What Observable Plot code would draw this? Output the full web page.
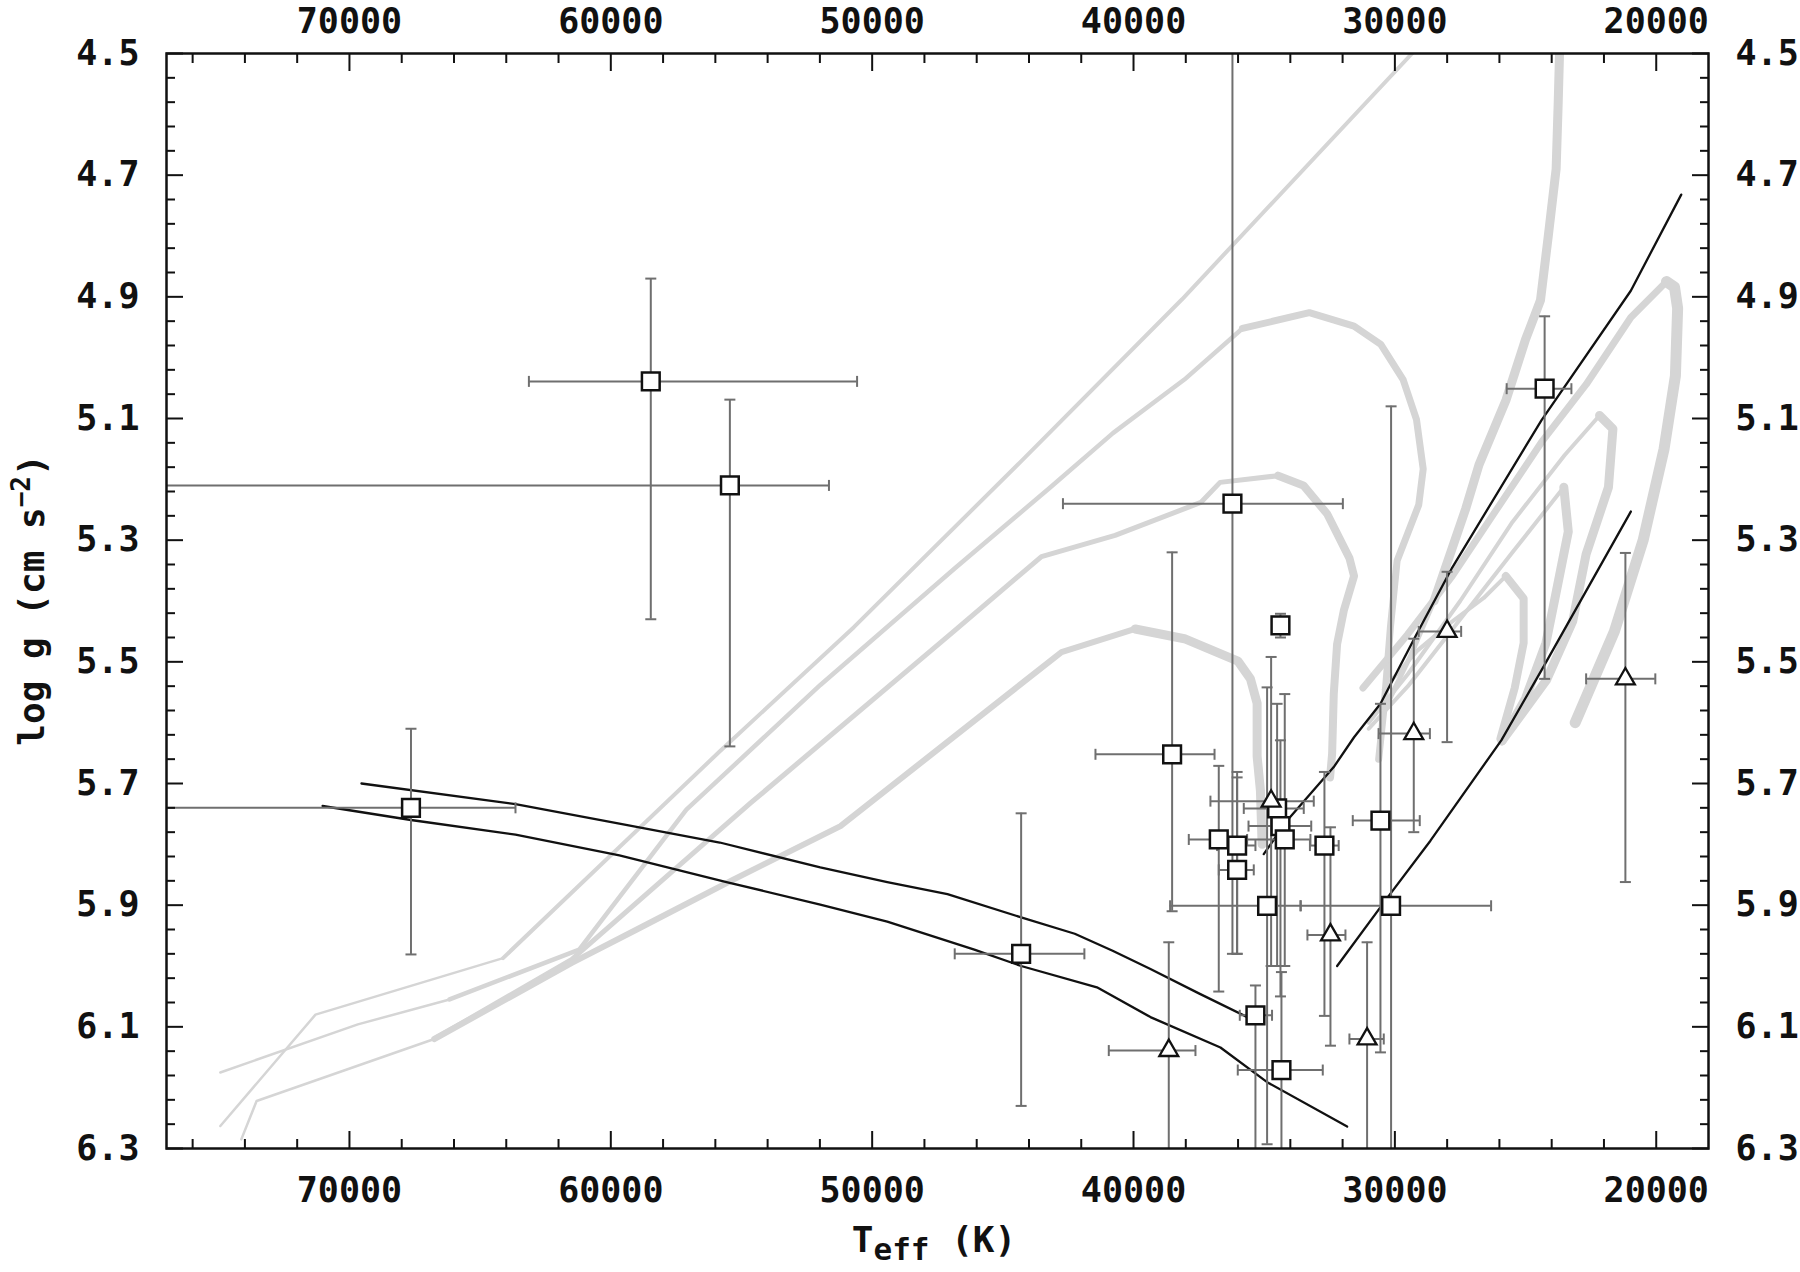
<!DOCTYPE html>
<html><head><meta charset="utf-8">
<script src="https://cdn.jsdelivr.net/npm/d3@7"></script>
<script src="https://cdn.jsdelivr.net/npm/@observablehq/plot@0.6"></script>
<style>
html,body{margin:0;padding:0;background:#fff;}
#chart{width:1800px;height:1272px;}
</style></head><body><div id="chart"></div>
<script>
// ---------- tick values ----------
const xMajor = [20000, 30000, 40000, 50000, 60000, 70000];
const xMinor = [22000,24000,26000,28000,32000,34000,36000,38000,42000,44000,46000,48000,52000,54000,56000,58000,62000,64000,66000,68000,72000,74000,76000];
const yMajor = [4.5, 4.7, 4.9, 5.1, 5.3, 5.5, 5.7, 5.9, 6.1, 6.3];
const yMinor = [4.54,4.58,4.62,4.66,4.74,4.78,4.82,4.86,4.94,4.98,5.02,5.06,5.14,5.18,5.22,5.26,5.34,5.38,5.42,5.46,5.54,5.58,5.62,5.66,5.74,5.78,5.82,5.86,5.94,5.98,6.02,6.06,6.14,6.18,6.22,6.26];

// ---------- grey evolutionary tracks (Teff, log g) ----------
const trkA1_T = [74940, 71300, 64123];
const trkA1_g = [6.263, 6.080, 5.987];
const trkA2_T = [64123, 55827, 50700, 44293, 38142, 29343, 28500];
const trkA2_g = [5.987, 5.647, 5.443, 5.170, 4.904, 4.500, 4.460];
const trkB1_T = [74942, 69678, 66170];
const trkB1_g = [6.175, 6.096, 6.055];
const trkB2_T = [66170, 61209, 57108, 51982, 46856, 43178, 40787, 38054, 35834];
const trkB2_g = [6.055, 5.973, 5.743, 5.538, 5.347, 5.213, 5.124, 5.036, 4.952];
const trkB3_T = [35834, 33272, 31564, 30539, 29685, 29172, 28916, 29087, 29915, 30170, 30425, 30620];
const trkB3_g = [4.952, 4.926, 4.948, 4.978, 5.036, 5.102, 5.183, 5.242, 5.334, 5.443, 5.580, 5.660];
const trkC1_T = [74138, 73553, 66754];
const trkC1_g = [6.285, 6.222, 6.120];
const trkC2_T = [66754, 61491, 54649, 46856, 43522, 40705, 37424, 36688, 34467];
const trkC2_g = [6.120, 5.989, 5.732, 5.449, 5.327, 5.292, 5.238, 5.205, 5.194];
const trkC3_T = [34467, 33500, 32588, 31734, 31563, 31955, 32211, 32338, 32401, 32480];
const trkC3_g = [5.194, 5.210, 5.257, 5.330, 5.359, 5.416, 5.471, 5.553, 5.651, 5.690];
const trkD1_T = [66754, 61491, 59006, 55314, 51213, 42755, 39936];
const trkD1_g = [6.120, 5.995, 5.940, 5.858, 5.770, 5.484, 5.446];
const trkD2_T = [39936, 38054, 36004, 35526, 35271, 35271, 35144, 35080];
const trkD2_g = [5.446, 5.462, 5.499, 5.528, 5.568, 5.655, 5.712, 5.800];
const trkE1_T = [23650, 23700, 23750, 23830, 24130, 24430, 25000, 25750, 26781, 27294, 28500];
const trkE1_g = [4.45, 4.50, 4.58, 4.69, 4.80, 4.906, 4.97, 5.07, 5.176, 5.249, 5.40];
const trkE2_T = [28500, 29400, 30300];
const trkE2_g = [5.40, 5.49, 5.57];
const trkF1_T = [31222, 29514, 27806, 26098, 24390, 22682, 20974, 19608];
const trkF1_g = [5.543, 5.455, 5.359, 5.249, 5.139, 5.044, 4.934, 4.875];
const trkF2_T = [19608, 19300, 19181, 19266, 19700, 20500, 21600, 23100];
const trkF2_g = [4.875, 4.884, 4.919, 5.030, 5.150, 5.300, 5.450, 5.600];
const trkG1a_T = [31000, 29500, 27500, 25500, 23500, 22169];
const trkG1a_g = [5.60, 5.52, 5.40, 5.27, 5.16, 5.095];
const trkG1b_T = [22169, 21657, 21828, 22682, 23194, 24200, 25900];
const trkG1b_g = [5.095, 5.117, 5.213, 5.323, 5.433, 5.53, 5.63];
const trkG2a_T = [31000, 29500, 27500, 25500, 23536];
const trkG2a_g = [5.61, 5.54, 5.43, 5.32, 5.213];
const trkG2b_T = [23536, 23365, 23877, 24219, 25000, 25900];
const trkG2b_g = [5.213, 5.286, 5.396, 5.469, 5.56, 5.63];
const trkG3a_T = [30425, 29150, 27874, 26599, 25756];
const trkG3a_g = [5.545, 5.482, 5.436, 5.395, 5.359];
const trkG3b_T = [25756, 25073, 25073, 25415, 25961];
const trkG3b_g = [5.359, 5.396, 5.469, 5.543, 5.626];

// ---------- black lines ----------
const L1_T = [69540, 63647, 59672, 55831, 51986, 49422, 47119, 44299, 42248, 40800, 39352, 37500, 35650];
const L1_g = [5.700, 5.734, 5.766, 5.797, 5.838, 5.862, 5.882, 5.920, 5.947, 5.975, 6.005, 6.045, 6.084];
const L2_T = [71028, 67645, 63647, 59672, 55574, 51986, 49422, 46090, 44300, 41400, 39352, 36674, 34888, 31827];
const L2_g = [5.737, 5.760, 5.784, 5.818, 5.862, 5.899, 5.927, 5.973, 6.000, 6.035, 6.084, 6.134, 6.191, 6.264];
const L3_T = [35017, 34122, 32339, 31562, 30552, 29175, 27806, 24393, 20972, 19043];
const L3_g = [5.816, 5.761, 5.673, 5.624, 5.569, 5.455, 5.345, 5.103, 4.890, 4.732];
const L4_T = [32210, 30169, 28639, 25928, 24393, 20972];
const L4_g = [6.000, 5.881, 5.794, 5.629, 5.514, 5.253];

// ---------- observed stars: squares ----------
const sqT    = [58470, 55444, 67646, 44300, 38523, 36215, 34378, 34506, 34378, 34213, 36738, 36036, 36036, 34889, 32695, 30552, 30145, 35335, 34340, 24270];
const sqG    = [5.039, 5.210, 5.740, 5.980, 5.652, 5.240, 5.440, 5.741, 5.770, 5.792, 5.792, 5.802, 5.842, 5.901, 5.802, 5.761, 5.901, 6.081, 6.171, 5.051];
const sqTlo  = [63134, 90000, 90000, 46841, 41456, 42700, null,  35781, 35600, 35654, 37885, 36801, 36738, 38600, 33250, 31611, 33613, 35934, 36011, 25722];
const sqThi  = [50577, 51653, 63647, 41880, 36900, 31990, null,  33486, 33200, 33231, 36419, 35335, 35399, 33600, 32150, 29048, 26318, 34700, 32759, 23246];
const sqGlo  = [4.870, 5.069, 5.610, 5.749, 5.320, 4.300, 5.421, 5.569, 5.629, 5.553, 5.671, 5.681, 5.690, 5.542, 5.681, 5.569, 5.080, 6.032, 6.010, 4.932];
const sqGhi  = [5.430, 5.639, 5.981, 6.230, 5.910, 5.980, 5.460, 6.000, 6.050, 6.000, 6.042, 5.980, 5.980, 6.293, 6.082, 6.142, 6.400, 6.400, 6.400, 5.528];

// ---------- observed stars: triangles ----------
const trT   = [34735, 32465, 29277, 28002, 38651, 31063, 21180];
const trG   = [5.729, 5.949, 5.618, 5.450, 6.139, 6.120, 5.528];
const trTlo = [37057, 33346, 30624, 29087, 40946, 31739, 22682];
const trThi = [33103, 31891, 28660, 27464, 37630, 30425, 20035];
const trGlo = [5.492, 5.772, 5.462, 5.352, 5.961, 5.961, 5.321];
const trGhi = [6.000, 6.131, 5.780, 5.632, 6.400, 6.400, 5.862];

// ---------- assemble ----------
const tracks = [
  ["A1", trkA1_T, trkA1_g], ["A2", trkA2_T, trkA2_g],
  ["B1", trkB1_T, trkB1_g], ["B2", trkB2_T, trkB2_g], ["B3", trkB3_T, trkB3_g],
  ["C1", trkC1_T, trkC1_g], ["C2", trkC2_T, trkC2_g], ["C3", trkC3_T, trkC3_g],
  ["D1", trkD1_T, trkD1_g], ["D2", trkD2_T, trkD2_g],
  ["E1", trkE1_T, trkE1_g], ["E2", trkE2_T, trkE2_g],
  ["F1", trkF1_T, trkF1_g], ["F2", trkF2_T, trkF2_g],
  ["G1a", trkG1a_T, trkG1a_g], ["G1b", trkG1b_T, trkG1b_g],
  ["G2a", trkG2a_T, trkG2a_g], ["G2b", trkG2b_T, trkG2b_g],
  ["G3a", trkG3a_T, trkG3a_g], ["G3b", trkG3b_T, trkG3b_g]
];
const trackWidth = {A1:2.5, A2:4, B1:2.5, B2:4.5, B3:7, C1:2.5, C2:5, C3:8, D1:6, D2:9,
  E1:9, E2:5, F1:7, F2:11, G1a:4, G1b:9, G2a:4, G2b:9, G3a:4, G3b:8};
const blackLines = [[L1_T, L1_g], [L2_T, L2_g], [L3_T, L3_g], [L4_T, L4_g]];

const rowsOf = (T, G) => T.map((t, i) => ({t, g: G[i]}));
const sqRows = sqT.map((t, i) => ({t, g: sqG[i], tlo: sqTlo[i], thi: sqThi[i], glo: sqGlo[i], ghi: sqGhi[i]}));
const trRows = trT.map((t, i) => ({t, g: trG[i], tlo: trTlo[i], thi: trThi[i], glo: trGlo[i], ghi: trGhi[i]}));
const allRows = sqRows.concat(trRows);
const hRows = allRows.filter(d => d.tlo != null);

const ERR = "#6f6f6f";
const GREY = "#d5d5d5";
const FONT = "'DejaVu Sans Mono', monospace";
const hcap = {draw(ctx, size) { const l = Math.sqrt(size / Math.PI); ctx.moveTo(-l, 0); ctx.lineTo(l, 0); }};
const vcap = {draw(ctx, size) { const l = Math.sqrt(size / Math.PI); ctx.moveTo(0, -l); ctx.lineTo(0, l); }};

const marks = [];
for (const [name, T, G] of tracks) {
  marks.push(Plot.line(rowsOf(T, G), {x: "t", y: "g", stroke: GREY, strokeWidth: trackWidth[name],
    strokeLinecap: "round", strokeLinejoin: "round", clip: true}));
}
for (const [T, G] of blackLines) {
  marks.push(Plot.line(rowsOf(T, G), {x: "t", y: "g", stroke: "#111", strokeWidth: 2.3, clip: true}));
}
marks.push(
  Plot.ruleX(allRows, {x: "t", y1: "glo", y2: "ghi", stroke: ERR, strokeWidth: 2, clip: true}),
  Plot.ruleY(hRows, {y: "g", x1: "tlo", x2: "thi", stroke: ERR, strokeWidth: 2, clip: true}),
  Plot.dot(allRows, {x: "t", y: "glo", symbol: hcap, r: 5.5, stroke: ERR, strokeWidth: 2, fill: "none", clip: true}),
  Plot.dot(allRows, {x: "t", y: "ghi", symbol: hcap, r: 5.5, stroke: ERR, strokeWidth: 2, fill: "none", clip: true}),
  Plot.dot(hRows, {x: "tlo", y: "g", symbol: vcap, r: 5.5, stroke: ERR, strokeWidth: 2, fill: "none", clip: true}),
  Plot.dot(hRows, {x: "thi", y: "g", symbol: vcap, r: 5.5, stroke: ERR, strokeWidth: 2, fill: "none", clip: true}),
  Plot.dot(sqRows, {x: "t", y: "g", symbol: "square", r: 10, fill: "white", stroke: "#111", strokeWidth: 2.5}),
  Plot.dot(trRows, {x: "t", y: "g", symbol: "triangle", r: 7, fill: "white", stroke: "#111", strokeWidth: 2.3}),
  // axes: ticks inward on all four sides
  Plot.axisX(xMajor, {anchor: "bottom", tickSize: -17, tickPadding: 46, tickFormat: d3.format("d"), label: null, strokeWidth: 2}),
  Plot.axisX(xMinor, {anchor: "bottom", tickSize: -9, tickFormat: () => "", label: null, strokeWidth: 2}),
  Plot.axisX(xMajor, {anchor: "top", tickSize: -17, tickPadding: 38, tickFormat: d3.format("d"), label: null, strokeWidth: 2}),
  Plot.axisX(xMinor, {anchor: "top", tickSize: -9, tickFormat: () => "", label: null, strokeWidth: 2}),
  Plot.axisY(yMajor, {anchor: "left", tickSize: -17, tickPadding: 44, tickFormat: d3.format(".1f"), label: null, strokeWidth: 2}),
  Plot.axisY(yMinor, {anchor: "left", tickSize: -9, tickFormat: () => "", label: null, strokeWidth: 2}),
  Plot.axisY(yMajor, {anchor: "right", tickSize: -17, tickPadding: 44, tickFormat: d3.format(".1f"), label: null, strokeWidth: 2}),
  Plot.axisY(yMinor, {anchor: "right", tickSize: -9, tickFormat: () => "", label: null, strokeWidth: 2}),
  Plot.frame({stroke: "#111", strokeWidth: 2.5})
);

const svgEl = Plot.plot({
  width: 1800, height: 1272,
  marginLeft: 166, marginRight: 92, marginTop: 53, marginBottom: 124,
  x: {domain: [77000, 18000]},
  y: {domain: [6.3, 4.5]},
  style: {fontFamily: FONT, fontSize: "35px", fontWeight: "bold", background: "white", color: "#111"},
  marks
});
document.getElementById("chart").appendChild(svgEl);

// axis titles (real text)
const s = d3.select(svgEl);
const xt = s.append("text").attr("x", 934).attr("y", 1252).attr("text-anchor", "middle")
  .attr("fill", "#111").style("font-family", FONT).style("font-weight", "bold").style("font-size", "36px");
xt.append("tspan").text("T");
xt.append("tspan").attr("dy", 8).style("font-size", "31px").text("eff");
xt.append("tspan").attr("dy", -8).text(" (K)");

const yt = s.append("text").attr("transform", "translate(44,600) rotate(-90)").attr("text-anchor", "middle")
  .attr("fill", "#111").style("font-family", FONT).style("font-weight", "bold").style("font-size", "36px");
yt.append("tspan").text("log g (cm s");
yt.append("tspan").attr("dy", -14).style("font-size", "26px").text("\u22122");
yt.append("tspan").attr("dy", 14).text(")");
</script></body></html>
